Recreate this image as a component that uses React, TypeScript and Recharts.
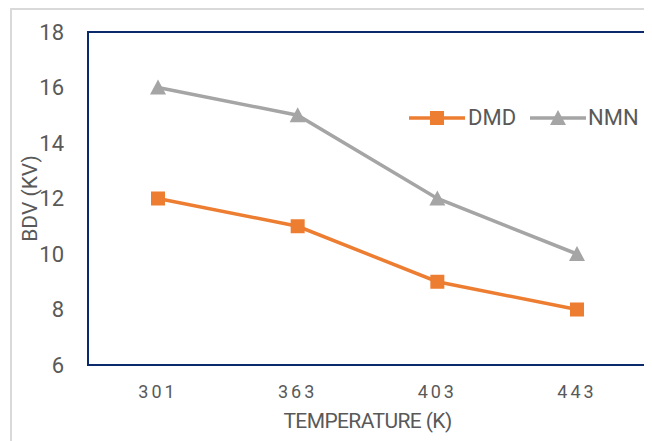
import { LineChart, Line, XAxis, YAxis } from "recharts";

const temperatures = ["301", "363", "403", "443"];
const dmdValues = [12, 11, 9, 8];
const nmnValues = [16, 15, 12, 10];
const yTicks = [6, 8, 10, 12, 14, 16, 18];

const data = temperatures.map((t, i) => ({
  temp: t,
  DMD: dmdValues[i],
  NMN: nmnValues[i],
}));

const ORANGE = "#ED7D31";
const GREY = "#A5A5A5";
const NAVY = "#0A2A6B";
const TEXT = "#595959";
const FONT = "Roboto, 'Noto Sans', sans-serif";

// plot box inside the chart svg
const PLOT = { left: 80, top: 24, right: 639, bottom: 357 };

const SquareDot = (props: any) => {
  const { cx, cy } = props;
  if (cx == null || cy == null) return null;
  return <rect x={cx - 7} y={cy - 7} width={14} height={14} fill={ORANGE} />;
};

const TriangleDot = (props: any) => {
  const { cx, cy } = props;
  if (cx == null || cy == null) return null;
  return (
    <polygon
      points={`${cx},${cy - 8} ${cx + 8},${cy + 7} ${cx - 8},${cy + 7}`}
      fill={GREY}
    />
  );
};

const LegendBox = () => (
  <div
    style={{
      position: "absolute",
      left: 401,
      top: 97,
      display: "flex",
      alignItems: "center",
      fontFamily: FONT,
      fontSize: 22,
      color: TEXT,
      lineHeight: "26px",
    }}
  >
    <svg width={56} height={20}>
      <line x1={0} y1={10} x2={56} y2={10} stroke={ORANGE} strokeWidth={3.5} />
      <rect x={21} y={3} width={14} height={14} fill={ORANGE} />
    </svg>
    <span style={{ marginLeft: 3, marginRight: 14 }}>DMD</span>
    <svg width={56} height={20}>
      <line x1={0} y1={10} x2={56} y2={10} stroke={GREY} strokeWidth={3.5} />
      <polygon points="28,2 36,17 20,17" fill={GREY} />
    </svg>
    <span style={{ marginLeft: 2 }}>NMN</span>
  </div>
);

export default function App() {
  return (
    <div style={{ position: "relative", width: 644, height: 433, overflow: "hidden" }}>
      <div
        style={{
          position: "absolute",
          left: 2,
          top: 0,
          width: 700,
          height: 500,
          border: "2px solid #D9D9D9",
          boxSizing: "border-box",
        }}
      />
      <LineChart
        width={644}
        height={433}
        data={data}
        margin={{ top: PLOT.top, right: 644 - PLOT.right, left: 0, bottom: 0 }}
        style={{ position: "absolute", left: 0, top: 0 }}
      >
        <XAxis
          dataKey="temp"
          height={433 - PLOT.bottom}
          padding={{ left: 70, right: 70 }}
          axisLine={false}
          tickLine={false}
          tickMargin={14}
          tick={{ fill: TEXT, fontSize: 18, fontFamily: FONT, letterSpacing: 3 }}
          label={{
            value: "TEMPERATURE (K)",
            position: "insideBottom",
            offset: 13,
            fill: TEXT,
            fontSize: 21,
            fontFamily: FONT,
            letterSpacing: -0.6,
          }}
        />
        <YAxis
          width={PLOT.left}
          domain={[6, 18]}
          ticks={yTicks}
          interval={0}
          axisLine={false}
          tickLine={false}
          tickMargin={18}
          tick={{ fill: TEXT, fontSize: 22, fontFamily: FONT }}
          label={{
            value: "BDV (KV)",
            angle: -90,
            position: "insideLeft",
            offset: 22,
            fill: TEXT,
            fontSize: 21,
            fontFamily: FONT,
            style: { textAnchor: "middle" },
          }}
        />
        <Line
          dataKey="DMD"
          stroke={ORANGE}
          strokeWidth={3.5}
          dot={<SquareDot />}
          activeDot={false}
          isAnimationActive={false}
        />
        <Line
          dataKey="NMN"
          stroke={GREY}
          strokeWidth={3.5}
          dot={<TriangleDot />}
          activeDot={false}
          isAnimationActive={false}
        />
      </LineChart>
      <div
        style={{
          position: "absolute",
          left: PLOT.left - 1,
          top: PLOT.top - 1,
          width: PLOT.right - PLOT.left + 2,
          height: PLOT.bottom - PLOT.top + 2,
          border: `2.5px solid ${NAVY}`,
          boxSizing: "border-box",
          pointerEvents: "none",
        }}
      />
      <LegendBox />
    </div>
  );
}
